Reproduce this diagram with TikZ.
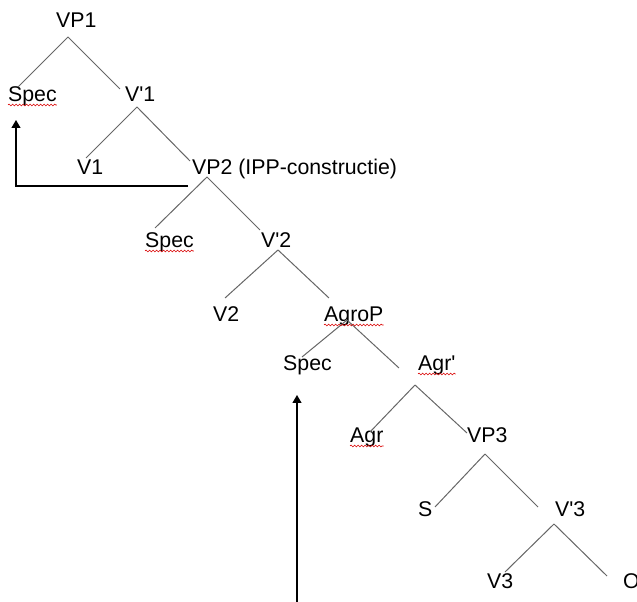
\documentclass[tikz,border=0pt]{standalone}
\usepackage{fontspec}
\setmainfont{Liberation Sans}
\usetikzlibrary{positioning,calc,arrows.meta,decorations.pathmorphing}

\begin{document}
\begin{tikzpicture}[
    x=1pt, y=1pt,
    every node/.style={inner sep=0pt, anchor=base west, font=\fontsize{21.3}{25}\selectfont},
    branch/.style={draw=black!60, line width=1pt},
    move/.style={draw=black, line width=1.2pt, -{Triangle[length=8pt,width=9pt]}},
    spell/.style={draw=red!85!black, line width=0.6pt, decorate,
        decoration={snake, amplitude=0.9pt, segment length=3.5pt}}
]
    \useasboundingbox (0,0) rectangle (637,602);

    % Level 0 and 1
    \node (vp1)   at (56,574)  {VP1};
    \node (spec1) at (8,500)   {Spec};
    \node (v1bar) at (125,500) {V\textquotesingle 1};
    % Level 2
    \node (v1)    at (77,427)  {V1};
    \node (vp2)   at (192,427) {VP2 (IPP-constructie)};
    % Level 3
    \node (spec2) at (145,354) {Spec};
    \node (v2bar) at (261,354) {V\textquotesingle 2};
    % Level 4
    \node (v2)    at (213,280) {V2};
    \node (agrop) at (324,280) {AgroP};
    % Level 5
    \node (spec3)  at (283,231) {Spec};
    \node (agrbar) at (418,231) {Agr\textquotesingle};
    % Level 6
    \node (agr)   at (350,159) {Agr};
    \node (vp3)   at (467,159) {VP3};
    % Level 7
    \node (s)     at (418,85)  {S};
    \node (v3bar) at (555,85)  {V\textquotesingle 3};
    % Level 8
    \node (v3)    at (487,13)  {V3};
    \node (o)     at (623,13)  {O};

    % Branches
    \draw[branch] ($(vp1.base west)+(12,-9)$) -- ($(spec1.base west)+(10,15)$);
    \draw[branch] ($(vp1.base west)+(12,-9)$) -- ($(v1bar.base west)+(-5,13)$);
    \draw[branch] ($(v1bar.base west)+(12,-5)$) -- ($(v1.base west)+(9,17)$);
    \draw[branch] ($(v1bar.base west)+(12,-5)$) -- ($(vp2.base west)+(-2,14)$);
    \draw[branch] ($(vp2.base west)+(15,-2)$) -- ($(spec2.base west)+(10,20)$);
    \draw[branch] ($(vp2.base west)+(15,-2)$) -- ($(v2bar.base west)+(-1,18)$);
    \draw[branch] ($(v2bar.base west)+(17,-2)$) -- ($(v2.base west)+(12,24)$);
    \draw[branch] ($(v2bar.base west)+(17,-2)$) -- ($(agrop.base west)+(5,24)$);
    \draw[branch] ($(agrop.base west)+(23,2)$) -- ($(spec3.base west)+(19,14)$);
    \draw[branch] ($(agrop.base west)+(23,2)$) -- ($(agrbar.base west)+(-19,3)$);
    \draw[branch] ($(agrbar.base west)+(-3,-14)$) -- ($(agr.base west)+(20,11)$);
    \draw[branch] ($(agrbar.base west)+(-3,-14)$) -- ($(vp3.base west)+(0,10)$);
    \draw[branch] ($(vp3.base west)+(18,-11)$) -- ($(s.base west)+(17,10)$);
    \draw[branch] ($(vp3.base west)+(18,-11)$) -- ($(v3bar.base west)+(-17,10)$);
    \draw[branch] ($(v3bar.base west)+(-1,-7)$) -- ($(v3.base west)+(18,17)$);
    \draw[branch] ($(v3bar.base west)+(-1,-7)$) -- ($(o.base west)+(-16,13)$);

    % Movement arrows
    \coordinate (trace) at (297,0);
    \draw[move] ($(vp2.base west)+(-4,-11)$) -| ($(spec1.base west)+(8,-18)$);
    \draw[move] (trace) -- ($(spec3.base west)+(14,-24)$);

    % Spell-check underlines
    \foreach \word in {spec1, spec2, agrop, agrbar, agr}
        \draw[spell] ([yshift=-3pt]\word.base west) -- ([yshift=-3pt]\word.base east);
\end{tikzpicture}
\end{document}
